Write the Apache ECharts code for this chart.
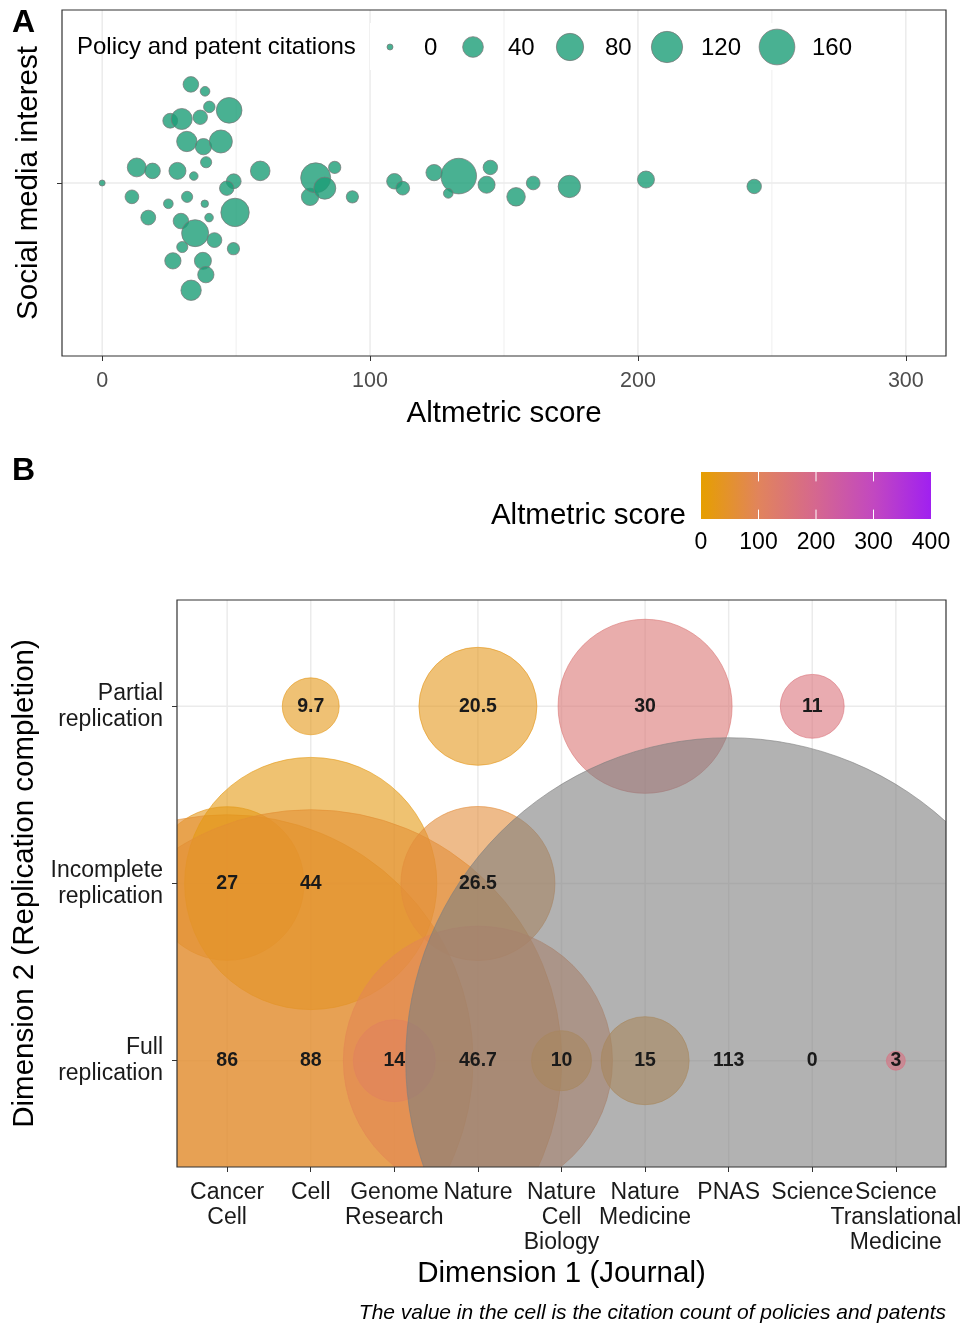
<!DOCTYPE html>
<html><head><meta charset="utf-8">
<script src="https://cdn.jsdelivr.net/npm/echarts@6/dist/echarts.min.js"></script>
<style>html,body{margin:0;padding:0;background:#fff}#c{width:966px;height:1326px}</style>
</head><body><div id="c"></div>
<script>
// ---------- Panel A data ----------
const altmetricA = [33.1,38.4,40.0,47.4,25.4,29.7,36.6,31.6,37.8,44.3,38.8,12.9,18.8,28.1,34.2,59.0,0,49.1,46.5,11.1,24.7,31.7,38.3,39.9,49.6,17.2,29.4,34.7,41.9,29.9,49.0,26.4,37.6,38.7,33.2,77.6,79.7,83.1,86.8,93.4,109.1,112.2,123.9,133.1,129.2,144.9,143.5,154.5,160.9,174.4,203.0,243.4];
const jitterA = [0.57,0.53,0.44,0.42,0.36,0.37,0.38,0.24,0.21,0.24,0.12,0.09,0.07,0.07,0.04,0.07,0.00,0.01,-0.03,-0.08,-0.12,-0.08,-0.12,-0.20,-0.17,-0.20,-0.22,-0.29,-0.33,-0.37,-0.38,-0.45,-0.45,-0.53,-0.62,-0.08,0.03,-0.03,0.09,-0.08,0.01,-0.03,0.06,0.04,-0.06,0.09,-0.01,-0.08,0.00,-0.02,0.02,-0.02];
const citationsA = [26,10,15,70,24,42,23,39,28,54,14,35,26,30,7,37,0,24,23,21,10,14,4,7,91,24,26,78,24,14,17,28,30,28,39,31,107,48,17,17,26,21,28,159,10,23,30,34,21,50,30,23];
const legendCitations = [0,40,80,120,160];
const xTicksA = [0,100,200,300];
const xMinorA = [50,150,250];

// ---------- Panel B data ----------
const journals = ['Cancer\nCell','Cell','Genome\nResearch','Nature','Nature\nCell\nBiology','Nature\nMedicine','PNAS','Science','Science\nTranslational\nMedicine'];
const completion = ['Full\nreplication','Incomplete\nreplication','Partial\nreplication'];
const bJournal    = [0,0,1,1,1,2,3,3,3,4,5,5,6,7,7,8];
const bCompletion = [1,0,2,1,0,0,2,1,0,0,2,0,0,2,0,0];
const bAltmetric  = [30,55,25,20,55,130,30,65,90,50,150,45,520,160,160,170];
const bSize       = [59,605,8.1,159,630,16.8,34.8,59.3,181,9,75.7,19.4,1043,10.2,0,0.9];
const bCitations  = ['27','86','9.7','44','88','14','20.5','26.5','46.7','10','30','15','113','11','0','3'];
const colorTicks = [0,100,200,300,400];

// ---------- styles ----------
const FONT = 'Liberation Sans, Arial, Helvetica, sans-serif';
const gridA = {left:62, top:10, width:884, height:346};
const gridB = {left:177, top:600, width:769, height:567};
const sizeRange = [[0,6],[40,20.7],[80,27.3],[120,31.3],[160,35.7]];
function citationDiameter(v){
  for (let i=1;i<sizeRange.length;i++){
    if (v<=sizeRange[i][0] || i===sizeRange.length-1){
      const a=sizeRange[i-1], b=sizeRange[i];
      return a[1]+(b[1]-a[1])*(v-a[0])/(b[0]-a[0]);
    }
  }
}
const colorStops = ['#E69F00','#E1845C','#D5678F','#C248C0','#A020F0'];
const NA_COLOR = '#7F7F7F';
const GREEN = 'rgba(27,158,119,0.8)';
const GREEN_BORDER = 'rgba(120,120,120,0.75)';
const GRID_COLOR = '#EBEBEB';
const TITLE_SIZE = 29.5;

const chart = echarts.init(document.getElementById('c'), null, {renderer:'canvas'});

function vLineItem(w, yExt){
  return function(params, api){
    const v = api.value(0);
    const a = api.coord([v, yExt[0]]), b = api.coord([v, yExt[1]]);
    return {type:'line', shape:{x1:a[0],y1:a[1],x2:b[0],y2:b[1]}, style:{stroke:GRID_COLOR, lineWidth:w}};
  };
}
function hLineItem(xExt, w){
  return function(params, api){
    const v = api.value(1);
    const a = api.coord([xExt[0], v]), b = api.coord([xExt[1], v]);
    return {type:'line', shape:{x1:a[0],y1:a[1],x2:b[0],y2:b[1]}, style:{stroke:GRID_COLOR, lineWidth:w}};
  };
}

const dataA = altmetricA.map((x,i)=>[x, jitterA[i], citationsA[i]]);
const dataB = bJournal.map((j,i)=>[j, bCompletion[i], bAltmetric[i], bSize[i]]);

// legend graphics for panel A
const legendCenters = [390,473,570,667,777];
const legendLabelX = [424,508,605,701,812];
const graphics = [];
graphics.push({type:'text', x:12, y:23, z:50, style:{text:'A', font:'bold 32px '+FONT, fill:'#000', verticalAlign:'middle'}});
graphics.push({type:'text', x:12, y:471, z:50, style:{text:'B', font:'bold 32px '+FONT, fill:'#000', verticalAlign:'middle'}});
graphics.push({type:'text', x:77, y:47, z:6, style:{text:'Policy and patent citations', font:'24px '+FONT, fill:'#000', verticalAlign:'middle'}});
legendCitations.forEach((v,i)=>{
  graphics.push({type:'rect', z:5, shape:{x:legendCenters[i]-20,y:23,width:40,height:47}, style:{fill:'#fff'}});
  const r = citationDiameter(v)/2;
  graphics.push({type:'circle', z:6, shape:{cx:legendCenters[i], cy:47, r:r}, style:{fill:GREEN, stroke:GREEN_BORDER, lineWidth:1}});
  graphics.push({type:'text', z:6, x:legendLabelX[i], y:48, style:{text:String(v), font:'24px '+FONT, fill:'#000', verticalAlign:'middle'}});
});
// colour bar for panel B
const cb = {x:701, y:472, w:230, h:47};
graphics.push({type:'rect', z:5, shape:{x:cb.x,y:cb.y,width:cb.w,height:cb.h},
  style:{fill:new echarts.graphic.LinearGradient(0,0,1,0, colorStops.map((c,i)=>({offset:i/(colorStops.length-1), color:c})))}});
colorTicks.forEach(v=>{
  const x = cb.x + v/400*cb.w;
  if (v>0 && v<400){
    graphics.push({type:'line', z:6, shape:{x1:x,y1:cb.y,x2:x,y2:cb.y+9.4}, style:{stroke:'#fff', lineWidth:1}});
    graphics.push({type:'line', z:6, shape:{x1:x,y1:cb.y+cb.h-9.4,x2:x,y2:cb.y+cb.h}, style:{stroke:'#fff', lineWidth:1}});
  }
  graphics.push({type:'text', z:6, x:x, y:543, style:{text:String(v), font:'23px '+FONT, fill:'#000', align:'center', verticalAlign:'middle'}});
});
graphics.push({type:'text', z:6, x:686, y:516, style:{text:'Altmetric score', font:TITLE_SIZE+'px '+FONT, fill:'#000', align:'right', verticalAlign:'middle'}});
// caption
graphics.push({type:'text', z:6, x:946, y:1313, style:{text:'The value in the cell is the citation count of policies and patents', font:'italic 21px '+FONT, fill:'#000', align:'right', verticalAlign:'middle'}});
// panel borders
[gridA, gridB].forEach(g=>{
  graphics.push({type:'rect', z:60, shape:{x:g.left,y:g.top,width:g.width,height:g.height}, style:{fill:'none', stroke:'#333', lineWidth:1.2}});
});

const journalTicks = journals.map((_,i)=>i);
const bLabelStyle = {fontSize:23, lineHeight:25, color:'#1A1A1A', margin:13, fontFamily:FONT, verticalAlign:'top', hideOverlap:false};
const noLine = {show:false, onZero:false};

const option = {
  animation:false,
  backgroundColor:'#fff',
  textStyle:{fontFamily:FONT},
  grid:[
    Object.assign({containLabel:false, outerBoundsMode:'none', show:false}, gridA),
    Object.assign({containLabel:false, outerBoundsMode:'none', show:false}, gridB)
  ],
  xAxis:[
    {type:'value', gridIndex:0, min:-15, max:315, position:'bottom',
     axisLine:noLine, splitLine:{show:false},
     axisTick:{show:true, customValues:xTicksA, length:5, lineStyle:{color:'#333', width:1}},
     axisLabel:{show:true, customValues:xTicksA, fontSize:21.5, color:'#4D4D4D', margin:14, fontFamily:FONT, hideOverlap:false},
     name:'Altmetric score', nameLocation:'middle', nameGap:43, nameTextStyle:{fontSize:TITLE_SIZE, color:'#000', fontFamily:FONT}},
    {type:'value', gridIndex:1, min:-0.6, max:8.6, position:'bottom',
     axisLine:noLine, splitLine:{show:false},
     axisTick:{show:true, customValues:journalTicks, length:5, lineStyle:{color:'#333', width:1}},
     axisLabel:Object.assign({show:true, customValues:journalTicks.slice(0,-1), formatter:(v)=>journals[Math.round(v)]}, bLabelStyle),
     name:'Dimension 1 (Journal)', nameLocation:'middle', nameGap:92, nameTextStyle:{fontSize:TITLE_SIZE, color:'#000', fontFamily:FONT}},
    // companion axis carrying the last journal label (so the library does not drop an overlapping neighbour)
    {type:'value', gridIndex:1, min:-0.6, max:8.6, position:'bottom',
     axisLine:noLine, splitLine:{show:false}, axisTick:{show:false},
     axisLabel:Object.assign({show:true, customValues:journalTicks.slice(-1), formatter:(v)=>journals[Math.round(v)]}, bLabelStyle)}
  ],
  yAxis:[
    {type:'value', gridIndex:0, min:-1, max:1, position:'left',
     axisLine:noLine, splitLine:{show:false},
     axisTick:{show:true, customValues:[0], length:5, lineStyle:{color:'#333', width:1}},
     axisLabel:{show:false},
     name:'Social media interest', nameLocation:'middle', nameGap:18, nameTextStyle:{fontSize:TITLE_SIZE, color:'#000', fontFamily:FONT}},
    {type:'value', gridIndex:1, min:-0.6, max:2.6, position:'left',
     axisLine:noLine, splitLine:{show:false},
     axisTick:{show:true, customValues:completion.map((_,i)=>i), length:5, lineStyle:{color:'#333', width:1}},
     axisLabel:{show:true, customValues:completion.map((_,i)=>i), formatter:(v)=>completion[Math.round(v)], fontSize:23, lineHeight:26, color:'#1A1A1A', margin:14, align:'right', fontFamily:FONT, hideOverlap:false},
     name:'Dimension 2 (Replication completion)', nameLocation:'middle', nameGap:135, nameTextStyle:{fontSize:TITLE_SIZE, color:'#000', fontFamily:FONT}}
  ],
  // colour scale limited to [0, 400]; values beyond the limit get the NA grey
  visualMap:[{type:'continuous', show:false, min:0, max:400.001, range:[0,400], dimension:2, seriesIndex:[6],
    inRange:{color:colorStops}, outOfRange:{color:NA_COLOR}}],
  series:[
    {type:'custom', xAxisIndex:0, yAxisIndex:0, z:1, silent:true, data:xTicksA.map(v=>[v,0]),
     renderItem:vLineItem(1.5, [-1,1])},
    {type:'custom', xAxisIndex:0, yAxisIndex:0, z:1, silent:true, data:xMinorA.map(v=>[v,0]),
     renderItem:vLineItem(0.8, [-1,1])},
    {type:'custom', xAxisIndex:0, yAxisIndex:0, z:1, silent:true, data:[[0,0]],
     renderItem:hLineItem([-15,315], 1.5)},
    {type:'scatter', xAxisIndex:0, yAxisIndex:0, z:3, silent:true, data:dataA,
     symbol:'circle', symbolSize:(val)=>citationDiameter(val[2]),
     itemStyle:{color:GREEN, borderColor:GREEN_BORDER, borderWidth:1, opacity:1}},
    {type:'custom', xAxisIndex:1, yAxisIndex:1, z:1, silent:true, data:journals.map((_,i)=>[i,0]),
     renderItem:vLineItem(1.5, [-0.6,2.6])},
    {type:'custom', xAxisIndex:1, yAxisIndex:1, z:1, silent:true, data:completion.map((_,i)=>[0,i]),
     renderItem:hLineItem([-0.6,8.6], 1.5)},
    {type:'custom', xAxisIndex:1, yAxisIndex:1, z:3, silent:true, clip:true, data:dataB,
     dimensions:['journal','completion','altmetric','size'], encode:{x:0, y:1},
     renderItem:function(params, api){
       const c = api.coord([api.value(0), api.value(1)]);
       const r = 10*Math.sqrt(api.value(3));
       const col = api.visual('color');
       return {type:'circle', shape:{cx:c[0], cy:c[1], r:r}, style:{fill:col, stroke:col, lineWidth:1, opacity:0.6}};
     }},
    {type:'custom', xAxisIndex:1, yAxisIndex:1, z:10, silent:true, data:dataB, encode:{x:0, y:1},
     renderItem:function(params, api){
       const c = api.coord([api.value(0), api.value(1)]);
       return {type:'text', x:c[0], y:c[1], style:{text:bCitations[params.dataIndex], fontSize:19.5, fontWeight:'bold', fontFamily:FONT, fill:'#1A1A1A', align:'center', verticalAlign:'middle'}};
     }}
  ],
  graphic:graphics
};
chart.setOption(option);
</script></body></html>
